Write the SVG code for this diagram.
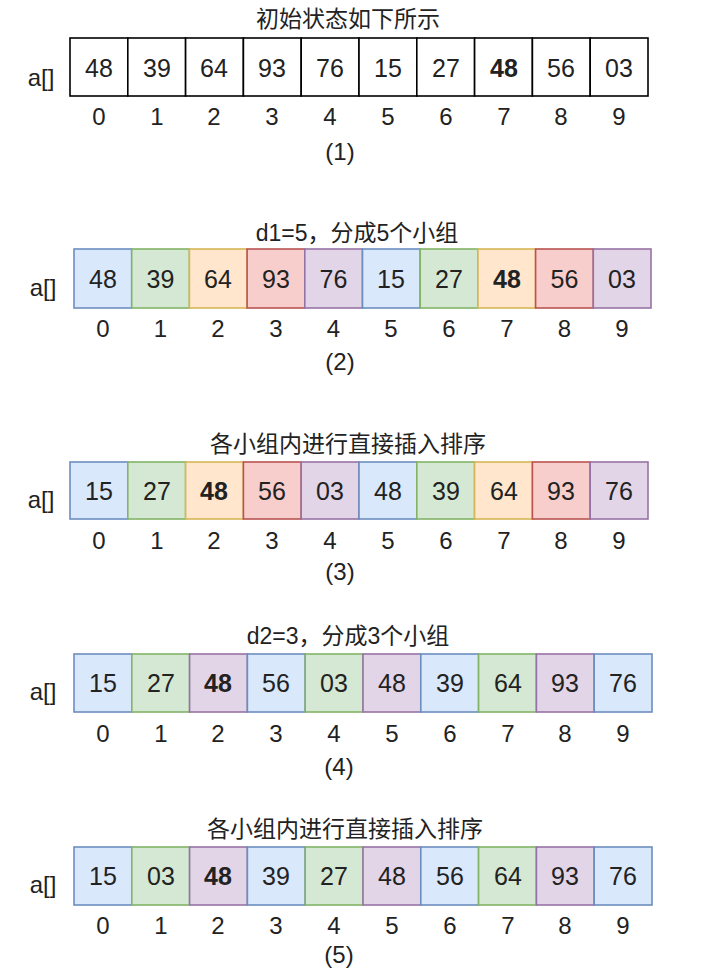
<svg xmlns="http://www.w3.org/2000/svg" width="711" height="978" viewBox="0 0 711 978">
<style>
text{font-family:"Liberation Sans","Noto Sans CJK SC",Arial,sans-serif;fill:#222}
.num{font-size:25px;text-anchor:middle}
.b{font-weight:bold}
.idx{font-size:24px;text-anchor:middle}
.lbl{font-size:24px;text-anchor:middle}
.title{font-size:23px;text-anchor:middle}
.arr{font-size:24px;text-anchor:middle}
rect{stroke-width:1.6}
.w{fill:#fff;stroke:#000}
.bl{fill:#dae8fc;stroke:#6c8ebf}
.gr{fill:#d5e8d4;stroke:#82b366}
.or{fill:#ffe6cc;stroke:#d6b656}
.rd{fill:#f8cecc;stroke:#b85450}
.pu{fill:#e1d5e7;stroke:#9673a6}
</style>
<rect width="711" height="978" fill="#fff"/>

<!-- Row 1 -->
<g id="row1">
<text class="title" x="348" y="27">初始状态如下所示</text>
<text class="arr" x="41" y="86">a[]</text>
<rect class="w" x="70" y="38" width="57.8" height="58"/>
<rect class="w" x="127.8" y="38" width="57.8" height="58"/>
<rect class="w" x="185.6" y="38" width="57.8" height="58"/>
<rect class="w" x="243.4" y="38" width="57.8" height="58"/>
<rect class="w" x="301.2" y="38" width="57.8" height="58"/>
<rect class="w" x="359" y="38" width="57.8" height="58"/>
<rect class="w" x="416.8" y="38" width="57.8" height="58"/>
<rect class="w" x="474.6" y="38" width="57.8" height="58"/>
<rect class="w" x="532.4" y="38" width="57.8" height="58"/>
<rect class="w" x="590.2" y="38" width="57.8" height="58"/>
<text class="num" x="99" y="77">48</text>
<text class="num" x="157" y="77">39</text>
<text class="num" x="214" y="77">64</text>
<text class="num" x="272" y="77">93</text>
<text class="num" x="330" y="77">76</text>
<text class="num" x="388" y="77">15</text>
<text class="num" x="446" y="77">27</text>
<text class="num b" x="504" y="77">48</text>
<text class="num" x="561" y="77">56</text>
<text class="num" x="619" y="77">03</text>
<text class="idx" x="99" y="125">0</text>
<text class="idx" x="157" y="125">1</text>
<text class="idx" x="214" y="125">2</text>
<text class="idx" x="272" y="125">3</text>
<text class="idx" x="330" y="125">4</text>
<text class="idx" x="388" y="125">5</text>
<text class="idx" x="446" y="125">6</text>
<text class="idx" x="504" y="125">7</text>
<text class="idx" x="561" y="125">8</text>
<text class="idx" x="619" y="125">9</text>
<text class="lbl" x="340" y="160">(1)</text>
</g>

<!-- Row 2 -->
<g id="row2">
<text class="title" x="357" y="241">d1=5，分成5个小组</text>
<text class="arr" x="43" y="296">a[]</text>
<rect class="bl" x="74" y="249" width="57.7" height="59"/>
<rect class="gr" x="131.7" y="249" width="57.7" height="59"/>
<rect class="or" x="189.4" y="249" width="57.7" height="59"/>
<rect class="rd" x="247.1" y="249" width="57.7" height="59"/>
<rect class="pu" x="304.8" y="249" width="57.7" height="59"/>
<rect class="bl" x="362.5" y="249" width="57.7" height="59"/>
<rect class="gr" x="420.2" y="249" width="57.7" height="59"/>
<rect class="or" x="477.9" y="249" width="57.7" height="59"/>
<rect class="rd" x="535.6" y="249" width="57.7" height="59"/>
<rect class="pu" x="593.3" y="249" width="57.7" height="59"/>
<text class="num" x="103" y="288">48</text>
<text class="num" x="160.5" y="288">39</text>
<text class="num" x="218" y="288">64</text>
<text class="num" x="276" y="288">93</text>
<text class="num" x="333.5" y="288">76</text>
<text class="num" x="391" y="288">15</text>
<text class="num" x="449" y="288">27</text>
<text class="num b" x="507" y="288">48</text>
<text class="num" x="564.5" y="288">56</text>
<text class="num" x="622" y="288">03</text>
<text class="idx" x="103" y="337">0</text>
<text class="idx" x="160.5" y="337">1</text>
<text class="idx" x="218" y="337">2</text>
<text class="idx" x="276" y="337">3</text>
<text class="idx" x="333.5" y="337">4</text>
<text class="idx" x="391" y="337">5</text>
<text class="idx" x="449" y="337">6</text>
<text class="idx" x="507" y="337">7</text>
<text class="idx" x="564.5" y="337">8</text>
<text class="idx" x="622" y="337">9</text>
<text class="lbl" x="340" y="370">(2)</text>
</g>

<!-- Row 3 -->
<g id="row3">
<text class="title" x="348" y="452">各小组内进行直接插入排序</text>
<text class="arr" x="41" y="508">a[]</text>
<rect class="bl" x="70" y="462" width="57.8" height="57"/>
<rect class="gr" x="127.8" y="462" width="57.8" height="57"/>
<rect class="or" x="185.6" y="462" width="57.8" height="57"/>
<rect class="rd" x="243.4" y="462" width="57.8" height="57"/>
<rect class="pu" x="301.2" y="462" width="57.8" height="57"/>
<rect class="bl" x="359" y="462" width="57.8" height="57"/>
<rect class="gr" x="416.8" y="462" width="57.8" height="57"/>
<rect class="or" x="474.6" y="462" width="57.8" height="57"/>
<rect class="rd" x="532.4" y="462" width="57.8" height="57"/>
<rect class="pu" x="590.2" y="462" width="57.8" height="57"/>
<text class="num" x="99" y="500">15</text>
<text class="num" x="157" y="500">27</text>
<text class="num b" x="214" y="500">48</text>
<text class="num" x="272" y="500">56</text>
<text class="num" x="330" y="500">03</text>
<text class="num" x="388" y="500">48</text>
<text class="num" x="446" y="500">39</text>
<text class="num" x="504" y="500">64</text>
<text class="num" x="561" y="500">93</text>
<text class="num" x="619" y="500">76</text>
<text class="idx" x="99" y="549">0</text>
<text class="idx" x="157" y="549">1</text>
<text class="idx" x="214" y="549">2</text>
<text class="idx" x="272" y="549">3</text>
<text class="idx" x="330" y="549">4</text>
<text class="idx" x="388" y="549">5</text>
<text class="idx" x="446" y="549">6</text>
<text class="idx" x="504" y="549">7</text>
<text class="idx" x="561" y="549">8</text>
<text class="idx" x="619" y="549">9</text>
<text class="lbl" x="340" y="580">(3)</text>
</g>

<!-- Row 4 -->
<g id="row4">
<text class="title" x="348" y="644">d2=3，分成3个小组</text>
<text class="arr" x="43" y="700">a[]</text>
<rect class="bl" x="74" y="654" width="57.8" height="58"/>
<rect class="gr" x="131.8" y="654" width="57.8" height="58"/>
<rect class="pu" x="189.6" y="654" width="57.8" height="58"/>
<rect class="bl" x="247.4" y="654" width="57.8" height="58"/>
<rect class="gr" x="305.2" y="654" width="57.8" height="58"/>
<rect class="pu" x="363" y="654" width="57.8" height="58"/>
<rect class="bl" x="420.8" y="654" width="57.8" height="58"/>
<rect class="gr" x="478.6" y="654" width="57.8" height="58"/>
<rect class="pu" x="536.4" y="654" width="57.8" height="58"/>
<rect class="bl" x="594.2" y="654" width="57.8" height="58"/>
<text class="num" x="103" y="692">15</text>
<text class="num" x="161" y="692">27</text>
<text class="num b" x="218" y="692">48</text>
<text class="num" x="276" y="692">56</text>
<text class="num" x="334" y="692">03</text>
<text class="num" x="392" y="692">48</text>
<text class="num" x="450" y="692">39</text>
<text class="num" x="508" y="692">64</text>
<text class="num" x="565" y="692">93</text>
<text class="num" x="623" y="692">76</text>
<text class="idx" x="103" y="742">0</text>
<text class="idx" x="161" y="742">1</text>
<text class="idx" x="218" y="742">2</text>
<text class="idx" x="276" y="742">3</text>
<text class="idx" x="334" y="742">4</text>
<text class="idx" x="392" y="742">5</text>
<text class="idx" x="450" y="742">6</text>
<text class="idx" x="508" y="742">7</text>
<text class="idx" x="565" y="742">8</text>
<text class="idx" x="623" y="742">9</text>
<text class="lbl" x="339" y="775">(4)</text>
</g>

<!-- Row 5 -->
<g id="row5">
<text class="title" x="345" y="837">各小组内进行直接插入排序</text>
<text class="arr" x="43" y="893">a[]</text>
<rect class="bl" x="74" y="847" width="57.8" height="58"/>
<rect class="gr" x="131.8" y="847" width="57.8" height="58"/>
<rect class="pu" x="189.6" y="847" width="57.8" height="58"/>
<rect class="bl" x="247.4" y="847" width="57.8" height="58"/>
<rect class="gr" x="305.2" y="847" width="57.8" height="58"/>
<rect class="pu" x="363" y="847" width="57.8" height="58"/>
<rect class="bl" x="420.8" y="847" width="57.8" height="58"/>
<rect class="gr" x="478.6" y="847" width="57.8" height="58"/>
<rect class="pu" x="536.4" y="847" width="57.8" height="58"/>
<rect class="bl" x="594.2" y="847" width="57.8" height="58"/>
<text class="num" x="103" y="885">15</text>
<text class="num" x="161" y="885">03</text>
<text class="num b" x="218" y="885">48</text>
<text class="num" x="276" y="885">39</text>
<text class="num" x="334" y="885">27</text>
<text class="num" x="392" y="885">48</text>
<text class="num" x="450" y="885">56</text>
<text class="num" x="508" y="885">64</text>
<text class="num" x="565" y="885">93</text>
<text class="num" x="623" y="885">76</text>
<text class="idx" x="103" y="934">0</text>
<text class="idx" x="161" y="934">1</text>
<text class="idx" x="218" y="934">2</text>
<text class="idx" x="276" y="934">3</text>
<text class="idx" x="334" y="934">4</text>
<text class="idx" x="392" y="934">5</text>
<text class="idx" x="450" y="934">6</text>
<text class="idx" x="508" y="934">7</text>
<text class="idx" x="565" y="934">8</text>
<text class="idx" x="623" y="934">9</text>
<text class="lbl" x="339" y="963">(5)</text>
</g>
</svg>
